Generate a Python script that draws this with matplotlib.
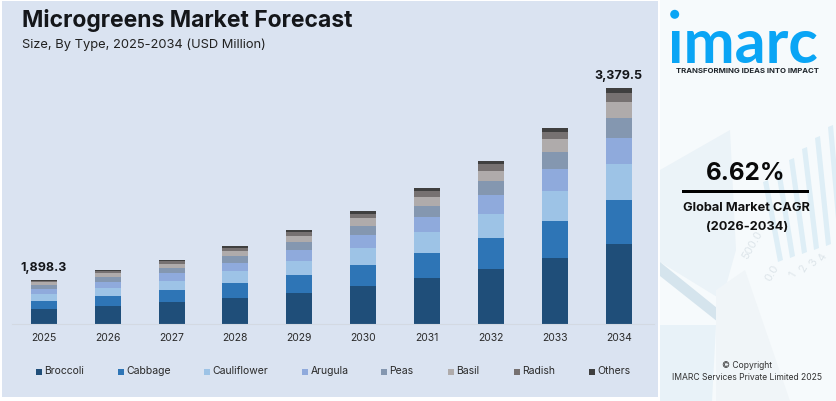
# -*- coding: utf-8 -*-
import matplotlib
matplotlib.use("Agg")
import matplotlib.pyplot as plt
from matplotlib.patches import Rectangle, Circle, Polygon
import numpy as np

plt.rcParams['font.family'] = ['Inter', 'DejaVu Sans']

years = ['2025', '2026', '2027', '2028', '2029', '2030', '2031', '2032', '2033', '2034']
first_label = '1,898.3'
last_label = '3,379.5'

# segment heights, the drawn bars do not follow the labels linearly
broccoli = [15, 18, 22, 26, 31, 38, 46, 55, 66, 80]
cabbage = [8, 10, 12, 15, 18, 21, 25, 31, 37, 44]
cauliflower = [7, 8, 9, 12, 14, 17, 21, 24, 30, 36]
arugula = [5, 6, 8, 8, 11, 13, 15, 19, 22, 26]
peas = [4.5, 5, 5, 7, 8, 9, 11, 14, 17, 20]
basil = [3, 4, 4, 5, 6, 8, 9, 10, 13, 16]
radish = [1, 2, 3, 3, 4, 4, 6, 7, 7, 9]
others = [0.5, 1, 1, 2, 2, 3, 3, 3, 4, 5]

series = [broccoli, cabbage, cauliflower, arugula, peas, basil, radish, others]
names = ['Broccoli', 'Cabbage', 'Cauliflower', 'Arugula', 'Peas', 'Basil', 'Radish', 'Others']
colors = ['#1f4e79', '#2e75b6', '#9dc3e6', '#8faadc', '#8497b0', '#afabab', '#767171', '#3f3f3f']
legend_x = [36, 118, 204, 302, 381, 448, 514, 589]

W, H = 836, 401
fig = plt.figure(figsize=(W / 100, H / 100), dpi=100)

# pixel canvas for panels and side text
bg = fig.add_axes([0, 0, 1, 1])
bg.set_xlim(0, W)
bg.set_ylim(H, 0)
bg.axis('off')
bg.add_patch(Rectangle((2, 1), 656, 396, color='#dae3f1', lw=0))
bg.add_patch(Rectangle((660, 0), 176, 401, color='#f6fafc', lw=0))

# faint picture behind the right panel
bg.add_patch(Polygon([(660, 170), (730, 130), (736, 250), (722, 300), (660, 262)], color='#ebf3f8', lw=0))
bg.add_patch(Polygon([(660, 262), (722, 312), (718, 322), (660, 276)], color='#d5e4ed', lw=0))
bg.add_patch(Polygon([(660, 325), (716, 325), (712, 401), (660, 401)], color='#e8f2f8', lw=0))
bg.add_patch(Polygon([(716, 290), (745, 270), (790, 401), (716, 401)], color='#f0f5f8', lw=0))
for i in range(8):
    bx = 778 + i * 12
    bg.add_patch(Polygon([(bx, 262 - i * 4), (bx + 5, 260 - i * 4), (bx - 10 + i, 180 - i * 11), (bx - 15 + i, 182 - i * 11)],
                         color='#deeef6', lw=0))
bg.text(752, 245, '500.0', fontsize=8, rotation=60, color='#dde5ea', ha='center', va='center')
bg.text(772, 273, '0.0', fontsize=8, rotation=60, color='#dde5ea', ha='center', va='center')
for i, tick in enumerate(['1', '2', '3', '4']):
    bg.text(793 + i * 10, 275 - i * 6, tick, fontsize=8, rotation=60, color='#dde5ea', ha='center', va='center')

# logo
bg.add_patch(Circle((674.7, 14.3), 4.5, color='#0aa5f5', lw=0))
bg.text(668, 63, '\u0131marc', fontsize=44, fontweight='bold', color='#0aa5f5',
        family='Lato', va='baseline', ha='left')
bg.text(747.5, 71, 'TRANSFORMING IDEAS INTO IMPACT', fontsize=5.6, fontweight='bold',
        color='#20262c', ha='center', va='center')

# side text
bg.text(746, 173, '6.62%', fontsize=17.5, fontweight='bold', color='#0a0a0a', ha='center', va='center')
bg.add_patch(Rectangle((682, 189.5), 127, 3.5, color='black', lw=0))
bg.text(746, 208, 'Global Market CAGR', fontsize=9.2, fontweight='bold', color='#111111', ha='center', va='center')
bg.text(747, 227, '(2026-2034)', fontsize=9.2, fontweight='bold', color='#111111', ha='center', va='center')
bg.text(747, 366, '\u00a9 Copyright', fontsize=6.2, color='#333333', ha='center', va='center')
bg.text(747, 378, 'IMARC Services Private Limited 2025', fontsize=6.2, color='#333333', ha='center', va='center')

# titles
bg.text(22, 21, 'Microgreens Market Forecast', fontsize=16.5, fontweight='bold', color='#14161a', va='center')
bg.text(22, 45, 'Size, By Type, 2025-2034 (USD Million)', fontsize=9.3, color='#222222', va='center')

# chart, axes spans the baseline and uses pixels for height
left, right, top, bottom = 12, 654, 60, 324
ax = fig.add_axes([left / W, 1 - bottom / H, (right - left) / W, (bottom - top) / H])
ax.patch.set_alpha(0)
x = np.arange(len(years))
ax.set_xlim((left - 43.7) / 63.9, (right - 43.7) / 63.9)
ax.set_ylim(0, bottom - top)

base = np.zeros(len(years))
for vals, name, col in zip(series, names, colors):
    ax.bar(x, vals, width=26 / 63.9, bottom=base, color=col, label=name, lw=0)
    base = base + np.array(vals)

ax.text(x[0], base[0] + 6, first_label, fontsize=9, fontweight='bold', color='#14161a', ha='center', va='bottom')
ax.text(x[-1], base[-1] + 6, last_label, fontsize=9, fontweight='bold', color='#14161a', ha='center', va='bottom')

for s in ['top', 'left', 'right']:
    ax.spines[s].set_visible(False)
ax.spines['bottom'].set_color('#d3d9e2')
ax.spines['bottom'].set_linewidth(0.8)
ax.set_yticks([])
ax.set_xticks(x)
ax.set_xticklabels(years, fontsize=7.5, color='#2a2a2a')
ax.tick_params(axis='x', length=0, pad=6.5)

# legend, entries sit unevenly so placed by hand
for lx, name, col in zip(legend_x, names, colors):
    bg.add_patch(Rectangle((lx, 369), 6, 6, color=col, lw=0))
    bg.text(lx + 8.5, 370.5, name, fontsize=7.5, color='#2a2a2a', va='center')

fig.savefig('out.png', dpi=100)
